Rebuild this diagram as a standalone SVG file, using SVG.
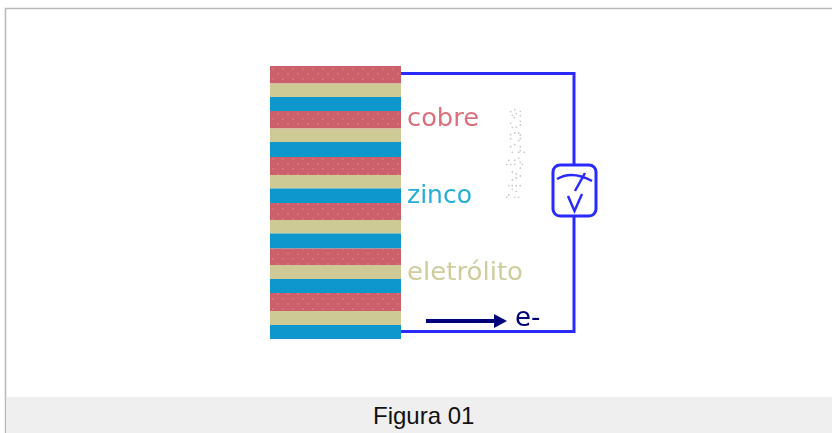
<svg xmlns="http://www.w3.org/2000/svg" width="832" height="433" viewBox="0 0 832 433">
<defs>
<filter id="soft" x="-5%" y="-5%" width="110%" height="110%"><feGaussianBlur stdDeviation="0.5"/></filter>
<pattern id="dots" width="10" height="10" patternUnits="userSpaceOnUse" x="270" y="66">
<circle cx="3" cy="3" r="0.8" fill="#e98a88"/><circle cx="8" cy="8" r="0.8" fill="#e98a88"/>
</pattern>
</defs>
<style>
.r{fill:#cb5f6b}.k{fill:#cdca95}.b{fill:#0a97cc}.o{fill:url(#dots)}
.w{fill:none;stroke:#2a2aff;stroke-width:3}
.m{fill:none;stroke:#2a2aff;stroke-width:2.500}
.t{font-family:"DejaVu Sans","Open Sans",sans-serif;font-size:25px}
</style>
<rect width="832" height="433" fill="#fff"/>
<rect x="5.500" y="8.500" width="832" height="430" fill="#fff" stroke="#b8b8b8" stroke-width="1.500"/>
<rect x="7" y="397" width="825" height="36" fill="#efefef"/>
<g id="stack" filter="url(#soft)">
<rect class="r" x="270" y="66" width="131" height="17.500"/><rect class="k" x="270" y="83.500" width="131" height="13.500"/><rect class="b" x="270" y="97" width="131" height="14"/>
<rect class="r" x="270" y="111" width="131" height="17.500"/><rect class="k" x="270" y="128.500" width="131" height="13.500"/><rect class="b" x="270" y="142" width="131" height="15"/>
<rect class="r" x="270" y="157" width="131" height="18"/><rect class="k" x="270" y="175" width="131" height="13.500"/><rect class="b" x="270" y="188.500" width="131" height="14.500"/>
<rect class="r" x="270" y="203" width="131" height="17"/><rect class="k" x="270" y="220" width="131" height="13.500"/><rect class="b" x="270" y="233.500" width="131" height="15"/>
<rect class="r" x="270" y="248.500" width="131" height="16.500"/><rect class="k" x="270" y="265" width="131" height="14"/><rect class="b" x="270" y="279" width="131" height="14"/>
<rect class="r" x="270" y="293" width="131" height="18"/><rect class="k" x="270" y="311" width="131" height="14"/><rect class="b" x="270" y="325" width="131" height="14"/>
<rect class="o" x="270" y="66" width="131" height="17"/><rect class="o" x="270" y="111" width="131" height="17"/><rect class="o" x="270" y="157" width="131" height="18"/><rect class="o" x="270" y="203" width="131" height="17"/><rect class="o" x="270" y="249" width="131" height="16"/><rect class="o" x="270" y="293" width="131" height="18"/>
</g>
<g id="connectors" filter="url(#soft)">
<path class="w" d="M401 73.500H574V165M574 216V331.500H401"/>
<path d="M426 321H498" stroke="#00007a" stroke-width="4" fill="none"/>
<path d="M494 314L507 321L494 328Z" fill="#00007a"/>
</g>
<g id="meter" filter="url(#soft)">
<rect class="w" x="553" y="165" width="43" height="51" rx="7"/>
<path class="m" d="M557 179Q572 170 592 181M585 173L575 191M568 196L574.500 211L582 194"/>
</g>
<g id="labels" filter="url(#soft)">
<text class="t" x="407" y="126" fill="#d9707c" textLength="72" lengthAdjust="spacingAndGlyphs">cobre</text>
<text class="t" x="407" y="203" fill="#27aed8" textLength="65" lengthAdjust="spacingAndGlyphs">zinco</text>
<text class="t" x="407" y="280" fill="#cfcd9c" textLength="116" lengthAdjust="spacingAndGlyphs">eletrólito</text>
<text class="t" x="515" y="326" fill="#00007a" style="font-size:26px">e-</text>
</g>
<path id="watermark" fill="none" stroke="#c9c9c9" stroke-width="1.800" stroke-linecap="round" d="M510.700 111.700h0M514.700 109.700h0M520.300 111.300h0M512.300 115.300h0M516.300 113.700h0M520.300 115.700h0M514.300 117.700h0M520.300 121.300h0M510.700 123.300h0M520.300 125h0M512.300 127.300h0M516.300 127.300h0M510.700 134.700h0M514.700 133h0M518.700 133h0M520.300 135h0M510.700 138.700h0M520.300 138.700h0M518.700 140.700h0M514.700 144.700h0M520.300 146.700h0M510.700 146.700h0M512.300 152.300h0M520.300 150.700h0M518.700 152.300h0M524.300 152.300h0M508.700 160.300h0M514.700 160.300h0M518.700 158.300h0M506.700 164.300h0M510.700 164.300h0M514.700 164.300h0M520.300 162.300h0M522.300 164.300h0M520.300 168h0M512.300 172h0M516.300 174h0M520.300 176h0M516.300 178h0M512.300 180h0M508.700 185.700h0M512.300 185.700h0M516.300 185.700h0M520.300 185.700h0M512.300 189.300h0M516.300 191.300h0M508.700 195h0M506.700 197.300h0M514.700 197.300h0M518.700 197.300h0"/>
<text x="373" y="424" font-family="'Liberation Sans',Arial,sans-serif" font-size="24" fill="#111">Figura 01</text>
</svg>
